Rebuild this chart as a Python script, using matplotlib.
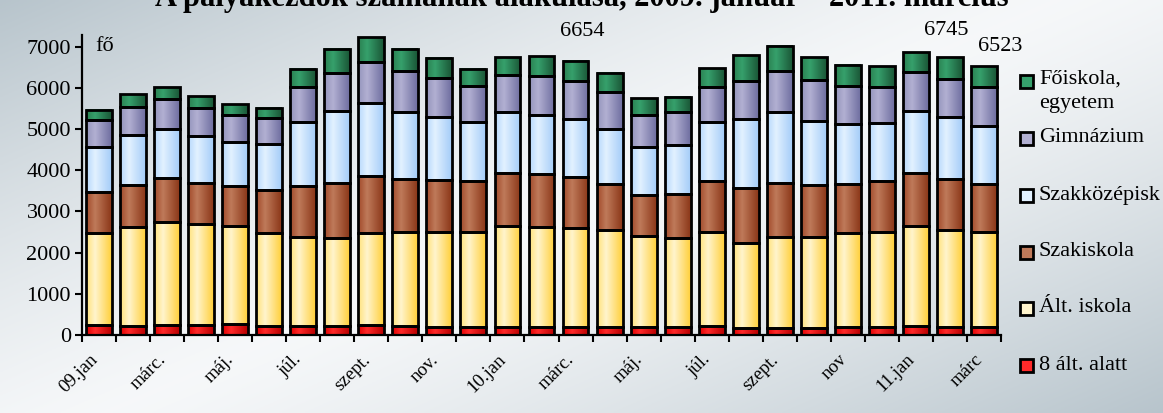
import numpy as np
import matplotlib
matplotlib.use('Agg')
from matplotlib import pyplot as plt
from matplotlib.colors import LinearSegmentedColormap
from matplotlib.patches import Rectangle
import matplotlib.transforms as mtransforms

plt.rcParams['font.family'] = ['Liberation Serif', 'DejaVu Serif']

# Data (persons per month, Jan 2009 - Mar 2011)
months = ['09.jan', '', 'márc.', '', 'máj.', '', 'júl.', '', 'szept.', '', 'nov.', '',
          '10.jan', '', 'márc.', '', 'máj.', '', 'júl.', '', 'szept.', '', 'nov', '',
          '11.jan', '', 'márc']
alt_alatt = [245, 230, 240, 240, 260, 220, 220, 220, 235, 220, 190, 205, 205, 205,
             205, 205, 190, 205, 220, 180, 180, 180, 205, 205, 220, 205, 205]
alt_iskola = [2225, 2400, 2495, 2445, 2395, 2250, 2150, 2130, 2250, 2290, 2320, 2290, 2450, 2410,
              2395, 2335, 2215, 2145, 2275, 2045, 2210, 2210, 2265, 2290, 2435, 2345, 2290]
szakiskola = [995, 1010, 1070, 995, 970, 1045, 1255, 1350, 1385, 1280, 1245, 1240, 1285, 1280,
              1230, 1115, 985, 1070, 1230, 1345, 1295, 1240, 1200, 1230, 1270, 1230, 1165]
szakkozep = [1090, 1205, 1205, 1140, 1070, 1115, 1535, 1730, 1755, 1625, 1545, 1430, 1475, 1450,
             1410, 1345, 1165, 1200, 1440, 1665, 1715, 1570, 1450, 1430, 1520, 1500, 1400]
gimnazium = [665, 695, 720, 695, 645, 630, 850, 940, 1010, 980, 925, 880, 900, 945,
             915, 890, 785, 785, 865, 940, 1010, 980, 915, 875, 940, 940, 955]
foiskola = [245, 300, 285, 275, 260, 245, 440, 565, 590, 545, 495, 420, 430, 470,
            499, 480, 405, 370, 445, 615, 615, 555, 510, 500, 485, 525, 508]
labelled = [14, 25, 26]  # bars with total shown

series = [alt_alatt, alt_iskola, szakiskola, szakkozep, gimnazium, foiskola]
names = ['8 ált. alatt', 'Ált. iskola', 'Szakiskola', 'Szakközépisk', 'Gimnázium', 'Főiskola,\negyetem']
# left edge, highlight, right edge of each bar gradient
grads = [('#e00000', '#ff2a2a', '#b80000'),
         ('#ffe27a', '#fff4cc', '#ffcf3a'),
         ('#a24a2a', '#bf7a5a', '#8a3618'),
         ('#b6d8fc', '#e2f1ff', '#a4ccf8'),
         ('#9494bc', '#b2b0d2', '#6e6ea0'),
         ('#2a8050', '#36a06c', '#1a5636')]

fig = plt.figure(figsize=(11.63, 4.13), dpi=100)

# background gradient
bg = fig.add_axes([0, 0, 1, 1], zorder=-5)
bg.axis('off')
yy, xx = np.mgrid[0:1:200j, 0:1:400j]
u = np.abs(0.55 * xx + 0.45 * yy - 0.5) * 2
light = np.array([0.965, 0.972, 0.978])
dark = np.array([0.72, 0.77, 0.80])
img = light[None, None, :] + (dark - light)[None, None, :] * np.clip(u, 0, 1)[..., None] ** 1.3
bg.imshow(img, extent=(0, 1, 0, 1), aspect='auto')
bg.set_xlim(0, 1)
bg.set_ylim(0, 1)

ax = fig.add_axes([82 / 1163, 1 - 335 / 413, 919 / 1163, 300 / 413])
ax.patch.set_alpha(0)

x = np.arange(len(months))
bottom = np.zeros(len(months))
for vals, name, g in zip(series, names, grads):
    cmap = LinearSegmentedColormap.from_list(name, [(0, g[0]), (0.35, g[1]), (1, g[2])])
    bars = ax.bar(x, vals, width=0.76, bottom=bottom, facecolor='none',
                  edgecolor='black', linewidth=2.0, zorder=3)
    for r in bars:
        ax.imshow(np.linspace(0, 1, 64)[None, :], cmap=cmap, aspect='auto', zorder=2,
                  extent=(r.get_x(), r.get_x() + r.get_width(), r.get_y(), r.get_y() + r.get_height()))
    bottom += np.array(vals)

totals = bottom
ax.set_xlim(-0.5, len(months) - 0.5)
ax.set_ylim(0, 7280)

for s in ['top', 'right']:
    ax.spines[s].set_visible(False)
for s in ['left', 'bottom']:
    ax.spines[s].set_linewidth(1.6)
    ax.spines[s].set_color('black')

ax.set_yticks(np.arange(0, 7001, 1000))
ax.tick_params(axis='y', direction='out', length=5, width=1.5, labelsize=16, pad=3)

ax.set_xticks(np.arange(-0.5, len(months), 1))
ax.set_xticklabels([])
ax.tick_params(axis='x', which='major', direction='out', length=5, width=1.5)
ax.set_xticks(x[::2], minor=True)
ax.set_xticklabels(months[::2], minor=True, rotation=45, ha='right', va='top',
                   rotation_mode='anchor', fontsize=13.5)
ax.tick_params(axis='x', which='minor', length=0, pad=0)
offset = mtransforms.ScaledTranslation(-0.10, -0.16, fig.dpi_scale_trans)
for lab in ax.get_xticklabels(minor=True):
    lab.set_transform(lab.get_transform() + offset)

ax.text(0.014, 7000, 'fő', transform=mtransforms.blended_transform_factory(ax.transAxes, ax.transData),
        fontsize=16, va='center', ha='left')

# totals above selected bars
lab_off = {14: (5, 21), 25: (-3, 19), 26: (12, 14)}
for i in labelled:
    ax.annotate(f'{int(totals[i])}', (x[i], totals[i]), xytext=lab_off[i], textcoords='offset points',
                ha='center', va='center', fontsize=16)

# legend (manual)
leg_y = [81, 138, 195, 252, 308, 365]
for name, g, ly in zip(names[::-1], grads[::-1], leg_y):
    fig.patches.append(Rectangle((1020 / 1163, 1 - (ly + 7) / 413), 13 / 1163, 13 / 413,
                                 transform=fig.transFigure, facecolor=g[1], edgecolor='black',
                                 linewidth=2.0))
    if '\n' in name:
        fig.text(1039 / 1163, 1 - (ly - 11) / 413, name, fontsize=16, va='top', ha='left',
                 linespacing=1.35)
    else:
        fig.text(1039 / 1163, 1 - ly / 413, name, fontsize=16, va='center', ha='left')

# title, clipped at the top like the original
fig.text(0.5, 1.003, 'A pályakezdők számának alakulása, 2009. január – 2011. március',
         ha='center', va='center', fontsize=22, fontweight='bold')

plt.savefig('out.png', dpi=100)
